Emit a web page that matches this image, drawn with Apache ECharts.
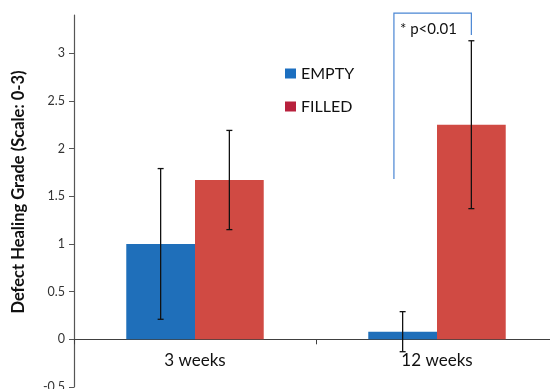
<!DOCTYPE html>
<html><head><meta charset="utf-8">
<script src="https://cdn.jsdelivr.net/npm/echarts@6/dist/echarts.min.js"></script>
<style>html,body{margin:0;padding:0;background:#fff}#c{width:550px;height:389px}</style>
</head><body><div id="c"></div>
<script>
const categories = ['3 weeks', '12 weeks'];
const emptyValues = [1.0, 0.08];
const filledValues = [1.67, 2.25];
const emptyErr = [0.79, 0.21];
const filledErr = [0.52, 0.88];
const yTicks = [-0.5, 0, 0.5, 1, 1.5, 2, 2.5, 3];
// significance bracket: [category, topValue, leftBottomValue, rightBottomValue]
const bracket = [[1, 3.42, 1.68, 3.19]];
const bracketLabel = '* p<0.01';

const FONT = 'Lato';
const BAR_FRAC = 0.284;
const Y_MIN = -0.5, Y_MAX = 3.4;
const GRID_TOP = 15, GRID_BOTTOM = 2, H = 389;
const plotH = H - GRID_TOP - GRID_BOTTOM;
const zeroOffset = -plotH * (0 - Y_MIN) / (Y_MAX - Y_MIN);

function errData(vals, errs) { return vals.map((v, i) => [i, v - errs[i], v + errs[i]]); }
function errRender(side) {
  return function (params, api) {
    const i = api.value(0);
    const band = api.size([1, 0])[0];
    const c = api.coord([i, 0])[0] + side * BAR_FRAC * band / 2;
    const lo = api.coord([i, api.value(1)])[1];
    const hi = api.coord([i, api.value(2)])[1];
    const st = { stroke: '#111', lineWidth: 1.3 };
    return { type: 'group', children: [
      { type: 'line', shape: { x1: c, y1: lo, x2: c, y2: hi }, style: st },
      { type: 'line', shape: { x1: c - 3, y1: lo, x2: c + 3, y2: lo }, style: st },
      { type: 'line', shape: { x1: c - 3, y1: hi, x2: c + 3, y2: hi }, style: st }
    ]};
  };
}

const chart = echarts.init(document.getElementById('c'));
chart.setOption({
  animation: false,
  backgroundColor: '#fff',
  textStyle: { fontFamily: FONT },
  grid: { left: 74, top: GRID_TOP, width: 484, bottom: GRID_BOTTOM, containLabel: false, outerBoundsMode: 'none' },
  legend: {
    orient: 'vertical', left: 285, top: 64, padding: 0, itemGap: 14,
    itemWidth: 11, itemHeight: 10, icon: 'rect',
    textStyle: { fontFamily: FONT, fontSize: 16, color: '#111', lineHeight: 19 },
    data: [
      { name: 'EMPTY', itemStyle: { color: '#1c6fc0' } },
      { name: 'FILLED', itemStyle: { color: '#b8213d' } }
    ]
  },
  xAxis: {
    type: 'category', data: categories, offset: zeroOffset,
    axisLine: { onZero: false, lineStyle: { color: '#404040', width: 1.2 } },
    axisTick: { show: true, length: 5, lineStyle: { color: '#404040' } },
    axisLabel: { fontFamily: FONT, fontSize: 17, color: '#111', margin: 13 },
    splitLine: { show: false }
  },
  yAxis: {
    type: 'value', min: Y_MIN, max: Y_MAX, interval: 0.5,
    name: 'Defect Healing Grade (Scale: 0-3)', nameLocation: 'middle', nameGap: 47,
    nameTextStyle: { fontFamily: FONT, fontSize: 16.5, fontWeight: 'bold', color: '#111', padding: [0, 0, 0, 18] },
    axisLine: { show: true, lineStyle: { color: '#555', width: 1.2 } },
    axisTick: { show: true, length: 5, customValues: yTicks, lineStyle: { color: '#555' } },
    axisLabel: { fontFamily: FONT, fontSize: 12.5, color: '#333', margin: 9, customValues: yTicks },
    splitLine: { show: false }
  },
  series: [
    { name: 'EMPTY', type: 'bar', data: emptyValues, barWidth: (BAR_FRAC * 100) + '%', barGap: '0%',
      itemStyle: { color: '#1f6fba' } },
    { name: 'FILLED', type: 'bar', data: filledValues, barWidth: (BAR_FRAC * 100) + '%', barGap: '0%',
      itemStyle: { color: '#d04a43' } },
    { type: 'custom', data: errData(emptyValues, emptyErr), renderItem: errRender(-1),
      encode: { x: 0, y: [1, 2] }, z: 10, silent: true },
    { type: 'custom', data: errData(filledValues, filledErr), renderItem: errRender(1),
      encode: { x: 0, y: [1, 2] }, z: 10, silent: true },
    { type: 'custom', data: bracket, clip: false, z: 11, silent: true,
      encode: { x: 0, y: [1, 2, 3] },
      renderItem: function (params, api) {
        const i = api.value(0);
        const band = api.size([1, 0])[0];
        const cx = api.coord([i, 0])[0];
        const xl = cx - 0.178 * band;
        const xr = cx + BAR_FRAC * band / 2;
        const yt = api.coord([i, api.value(1)])[1];
        const yl = api.coord([i, api.value(2)])[1];
        const yr = api.coord([i, api.value(3)])[1];
        const st = { stroke: '#4a86d4', lineWidth: 1.2, fill: null };
        return { type: 'group', children: [
          { type: 'polyline', shape: { points: [[xl, yl], [xl, yt], [xr, yt], [xr, yr]] }, style: st },
          { type: 'text', style: { text: bracketLabel, x: xl + 6, y: yt + 16, fill: '#111',
            font: '15px ' + FONT, verticalAlign: 'middle', align: 'left' } }
        ]};
      }
    }
  ]
});
</script></body></html>
